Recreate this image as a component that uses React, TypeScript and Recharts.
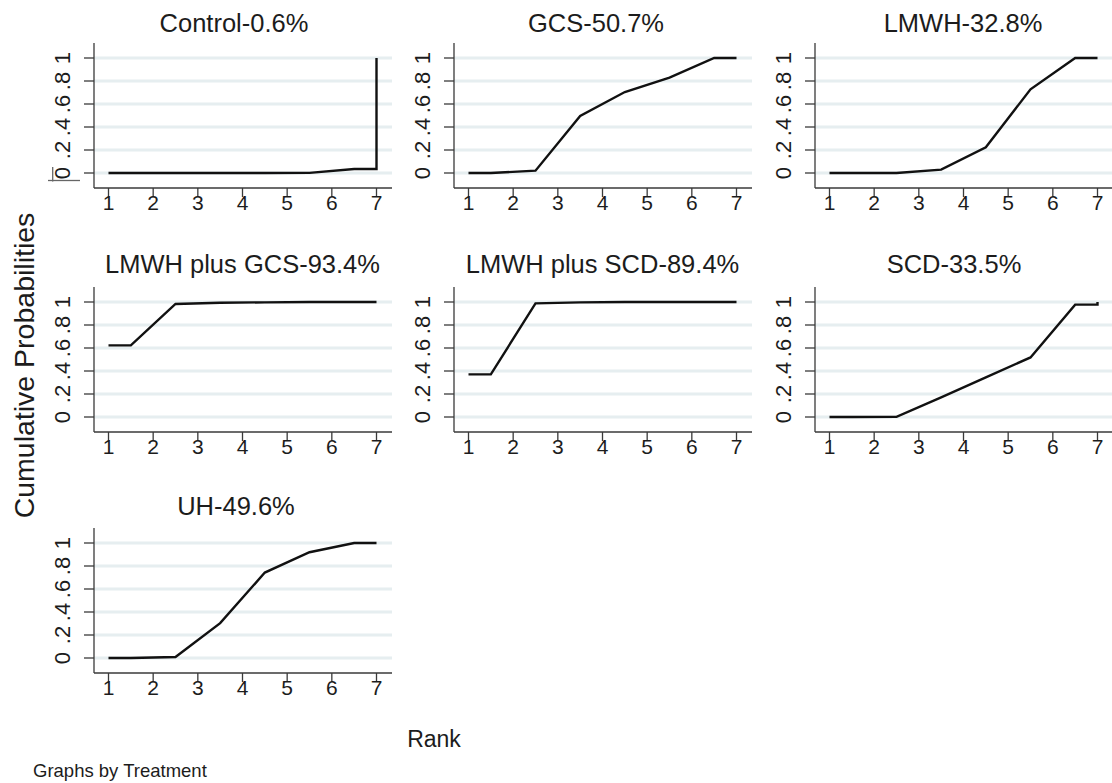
import React from "react";
import { LineChart, Line, XAxis, YAxis, CartesianGrid } from "recharts";

// Rank positions at which cumulative probabilities are plotted
const RANK_POSITIONS = [1, 1.5, 2.5, 3.5, 4.5, 5.5, 6.5, 7, 7];
const X_TICKS = [1, 2, 3, 4, 5, 6, 7];
const Y_TICKS = [0, 0.2, 0.4, 0.6, 0.8, 1];
const Y_TICK_LABELS = ["0", ".2", ".4", ".6", ".8", "1"];

const TREATMENTS = [
  "Control-0.6%",
  "GCS-50.7%",
  "LMWH-32.8%",
  "LMWH plus GCS-93.4%",
  "LMWH plus SCD-89.4%",
  "SCD-33.5%",
  "UH-49.6%",
];

const controlCum = [0, 0, 0, 0, 0, 0.001, 0.035, 0.035, 1];
const gcsCum = [0, 0, 0.02, 0.496, 0.704, 0.829, 1, 1, 1];
const lmwhCum = [0, 0, 0, 0.029, 0.223, 0.728, 1, 1, 1];
const lmwhGcsCum = [0.623, 0.623, 0.983, 0.994, 0.997, 1, 1, 1, 1];
const lmwhScdCum = [0.371, 0.371, 0.988, 0.997, 1, 1, 1, 1, 1];
const scdCum = [0, 0, 0.001, 0.17, 0.345, 0.518, 0.977, 0.977, 1];
const uhCum = [0, 0, 0.009, 0.303, 0.743, 0.92, 1, 1, 1];

const SERIES = [controlCum, gcsCum, lmwhCum, lmwhGcsCum, lmwhScdCum, scdCum, uhCum];

// layout
const COL_LEFT = [94, 454, 815];
const ROW_TOP = [43, 287, 528];
const PLOT_W = 298;
const PLOT_H = 145;
const Y_AXIS_W = 60;
const TOP_M = 40;
const X_AXIS_H = 40;

const TITLE_POS = [
  { cx: 234, y: 31.5 },
  { cx: 596, y: 31.5 },
  { cx: 963, y: 31.5 },
  { cx: 242.5, y: 273 },
  { cx: 602.5, y: 273 },
  { cx: 954, y: 273 },
  { cx: 236, y: 515 },
];

const FONT = "'Liberation Sans', Arial, Helvetica, sans-serif";
const TEXT_COLOR = "#1c1c1c";
const AXIS_COLOR = "#3a3a3a";
const GRID_COLOR = "#e6eef0";

const YTick = (props: any) => {
  const { x, y, payload } = props;
  const idx = Y_TICKS.indexOf(payload.value);
  const label = idx >= 0 ? Y_TICK_LABELS[idx] : String(payload.value);
  return (
    <text
      x={x}
      y={y}
      transform={`rotate(-90, ${x}, ${y})`}
      textAnchor="middle"
      fontSize={22}
      fontFamily={FONT}
      fill={TEXT_COLOR}
    >
      {label}
    </text>
  );
};

const XTick = (props: any) => {
  const { x, y, payload } = props;
  return (
    <text x={x} y={y + 12.8} textAnchor="middle" fontSize={21} fontFamily={FONT} fill={TEXT_COLOR}>
      {payload.value}
    </text>
  );
};

function Panel({ index }: { index: number }) {
  const col = index % 3;
  const row = Math.floor(index / 3);
  const values = SERIES[index];
  const data = RANK_POSITIONS.map((r, i) => ({ rank: r, cum: values[i] }));
  const left = COL_LEFT[col] - Y_AXIS_W;
  const top = ROW_TOP[row] - TOP_M;
  return (
    <div style={{ position: "absolute", left, top }}>
      <LineChart
        width={Y_AXIS_W + PLOT_W}
        height={TOP_M + PLOT_H + X_AXIS_H}
        data={data}
        margin={{ top: TOP_M, right: 0, bottom: 0, left: 0 }}
      >
        <CartesianGrid
          vertical={false}
          horizontal={true}
          stroke={GRID_COLOR}
          strokeWidth={3}
          horizontalValues={Y_TICKS}
        />
        <XAxis
          type="number"
          dataKey="rank"
          domain={[1, 7]}
          ticks={X_TICKS}
          padding={{ left: 14.5, right: 15.5 }}
          height={X_AXIS_H}
          tickSize={9}
          tickMargin={0}
          stroke={AXIS_COLOR}
          strokeWidth={1.3}
          tick={<XTick />}
          interval={0}
        />
        <YAxis
          type="number"
          domain={[0, 1]}
          ticks={Y_TICKS}
          padding={{ top: 15, bottom: 15 }}
          width={Y_AXIS_W}
          tickSize={10}
          tickMargin={14}
          stroke={AXIS_COLOR}
          strokeWidth={1.3}
          tick={<YTick />}
          interval={0}
        />
        <Line
          type="linear"
          dataKey="cum"
          stroke="#111"
          strokeWidth={2.4}
          dot={false}
          activeDot={false}
          isAnimationActive={false}
        />
      </LineChart>
    </div>
  );
}

export default function App() {
  return (
    <div
      style={{
        position: "absolute",
        left: 0,
        top: 0,
        width: 1112,
        height: 783,
        background: "#fff",
        overflow: "hidden",
      }}
    >
      {TREATMENTS.map((_, i) => (
        <Panel key={i} index={i} />
      ))}
      <svg
        width={1112}
        height={783}
        style={{ position: "absolute", left: 0, top: 0, pointerEvents: "none" }}
      >
        {TREATMENTS.map((t, i) => (
          <text
            key={t}
            x={TITLE_POS[i].cx}
            y={TITLE_POS[i].y}
            textAnchor="middle"
            fontSize={25.5}
            fontFamily={FONT}
            fill={TEXT_COLOR}
          >
            {t}
          </text>
        ))}
        <text
          x={34}
          y={365.5}
          transform="rotate(-90, 34, 365.5)"
          textAnchor="middle"
          fontSize={28.5}
          fontFamily={FONT}
          fill={TEXT_COLOR}
        >
          Cumulative Probabilities
        </text>
        <text x={434} y={746.5} textAnchor="middle" fontSize={23} fontFamily={FONT} fill={TEXT_COLOR}>
          Rank
        </text>
        <text x={33} y={776.5} textAnchor="start" fontSize={18.5} fontFamily={FONT} fill={TEXT_COLOR}>
          Graphs by Treatment
        </text>
        <line x1={52.7} y1={167} x2={52.7} y2={181.5} stroke="#666" strokeWidth={1.3} />
        <line x1={48} y1={180.5} x2={80} y2={180.5} stroke="#666" strokeWidth={1.3} />
      </svg>
    </div>
  );
}
